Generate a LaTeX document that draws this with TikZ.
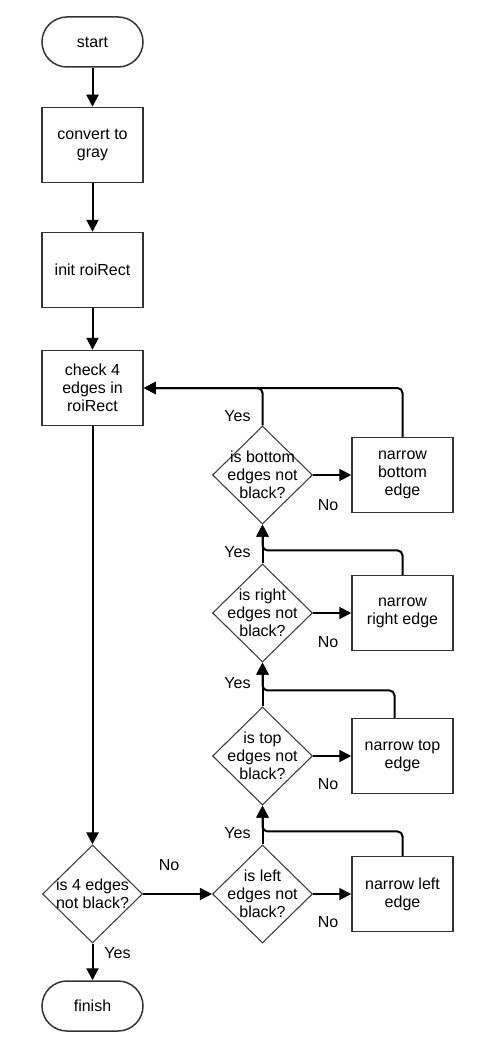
\documentclass[tikz,border=0pt]{standalone}
\usepackage{fontspec}
\setmainfont{Liberation Sans}
\usetikzlibrary{shapes.geometric, positioning, arrows.meta}

\begin{document}
\begin{tikzpicture}[x=1pt,y=-1pt,>={Triangle[length=12pt,width=12pt]},on grid,
  every node/.style={font=\fontsize{16}{18}\selectfont}]
\tikzstyle{term}=[rectangle,rounded corners=25pt,draw=black!80,line width=1.5pt,minimum width=101pt,minimum height=50pt,inner sep=0pt]
\tikzstyle{proc}=[rectangle,draw=black!80,line width=1.5pt,minimum width=101pt,minimum height=75pt,inner sep=0pt,align=center]
\tikzstyle{dec}=[diamond,draw=black!75,line width=1.1pt,minimum width=100pt,minimum height=98pt,inner sep=0pt]
\tikzstyle{dectext}=[align=center,inner sep=0pt]
\tikzstyle{flow}=[->,line width=2pt]
\tikzstyle{loop}=[->,line width=2pt,rounded corners=5pt]

\useasboundingbox (0,0) rectangle (478,1051);

%--- main column ---
\node[term] (start) at (92.5,42) {start};
\node[proc] (convert) [below=103pt of start] {convert to\\gray};
\node[proc] (init) [below=125pt of convert] {init roiRect};
\node[proc] (check) [below=118pt of init] {check 4\\edges in\\roiRect};
\node[dec, label={[dectext]center:is 4 edges\\not black?}] (fourdec) [below=506pt of check] {};
\node[term] (finish) [below=112pt of fourdec] {finish};

%--- checks on the right ---
\node[dec, label={[dectext]center:is left\\edges not\\black?}] (leftdec) [right=170pt of fourdec] {};
\node[dec, label={[dectext]center:is top\\edges not\\black?}] (topdec) [above=138pt of leftdec] {};
\node[dec, label={[dectext]center:is right\\edges not\\black?}] (rightdec) [above=143pt of topdec] {};
\node[dec, label={[dectext]center:is bottom\\edges not\\black?}] (botdec) [above=138pt of rightdec] {};

\node[proc] (narrowleft) [right=140pt of leftdec] {narrow left\\edge};
\node[proc] (narrowtop) [right=140pt of topdec] {narrow top\\edge};
\node[proc] (narrowright) [right=140pt of rightdec] {narrow\\right edge};
\node[proc] (narrowbottom) [right=140pt of botdec] {narrow\\bottom\\edge};

%--- labels ---
\node (yesbot) at ([xshift=-25pt,yshift=9pt]botdec.north) {Yes};
\node (yesright) at ([xshift=-25pt,yshift=11pt]rightdec.north) {Yes};
\node (yestop) at ([xshift=-25pt,yshift=23pt]topdec.north) {Yes};
\node (yesleft) at ([xshift=-25pt,yshift=11pt]leftdec.north) {Yes};
\node (yesfour) at ([xshift=25pt,yshift=-10pt]fourdec.south) {Yes};
\node (nobot) at ([xshift=15pt,yshift=-30pt]botdec.east) {No};
\node (noright) at ([xshift=15pt,yshift=-29pt]rightdec.east) {No};
\node (notop) at ([xshift=15pt,yshift=-28pt]topdec.east) {No};
\node (noleft) at ([xshift=15pt,yshift=-28pt]leftdec.east) {No};
\node (nofour) at ([xshift=26pt,yshift=29pt]fourdec.east) {No};

%--- connectors ---
\draw[flow] (start) -- (convert);
\draw[flow] (convert) -- (init);
\draw[flow] (init) -- (check);
\draw[flow] (check) -- (fourdec);
\draw[flow] (fourdec) -- (finish);
\draw[flow] (fourdec) -- (leftdec);

\draw[flow] (leftdec) -- (narrowleft);
\draw[flow] (topdec) -- (narrowtop);
\draw[flow] (rightdec) -- (narrowright);
\draw[flow] (botdec) -- (narrowbottom);

\draw[flow] (leftdec) -- (topdec);
\draw[flow] (topdec) -- (rightdec);
\draw[flow] (rightdec) -- (botdec);
\draw[loop] (botdec.north) |- (check.east);

\draw[loop] (narrowleft.north) |- ([yshift=13pt]leftdec.north) -- (topdec.south);
\draw[loop] ([xshift=-8pt]narrowtop.north) |- ([yshift=16pt]topdec.north) -- (rightdec.south);
\draw[loop] (narrowright.north) |- ([yshift=13pt]rightdec.north) -- (botdec.south);
\draw[loop] (narrowbottom.north) |- (check.east);

\end{tikzpicture}
\end{document}
